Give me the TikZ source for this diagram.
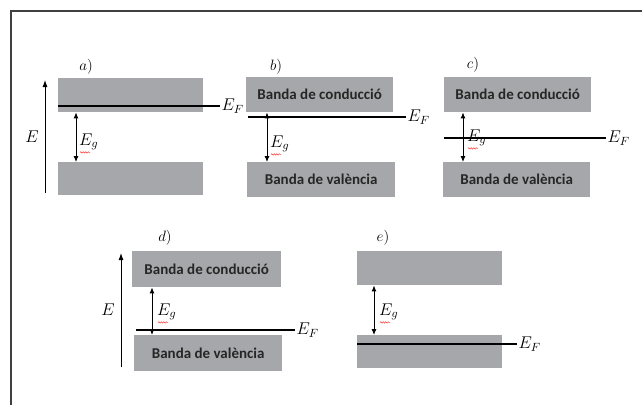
\RequirePackage{fix-cm}
\documentclass[tikz,border=0pt]{standalone}
\usepackage{fontspec}
\newfontfamily\bandfont{Carlito}
\usetikzlibrary{arrows.meta,decorations.pathmorphing}
\definecolor{bandgray}{RGB}{166,167,170}
\tikzset{
  band/.style={fill=bandgray, draw=none, anchor=north west, inner sep=0pt,
    font=\bandfont\bfseries\fontsize{15}{15}\selectfont, text=black!85},
  gaparrow/.style={{Latex[length=6pt,width=5pt]}-{Latex[length=6pt,width=5pt]}, line width=0.9pt},
  axis/.style={-{Latex[length=7pt,width=5pt]}, line width=0.9pt},
  fermi/.style={line width=1.1pt},
  lbl/.style={font=\fontsize{17}{17}\selectfont},
  tag/.style={font=\fontsize{15}{15}\selectfont},
  typo/.style={red!80, line width=0.5pt, decorate,
    decoration={snake, amplitude=0.7pt, segment length=2.5pt}}
}
\begin{document}
\begin{tikzpicture}[x=1pt,y=-1pt]
\useasboundingbox (0,0) rectangle (642,405);
\draw[line width=1.1pt, black!75] (642,11) -- (11,11) -- (11,405);
% a) metal
\node[tag] (la) at (86,67) {$a)$};
\coordinate (ea0) at (45,193);
\coordinate (ea1) at (45,80);
\draw[axis] (ea0) -- (ea1);
\node[lbl] (ela) at (32,137) {$E$};
\node[band, minimum width=145pt, minimum height=34pt] (ca) at (58,78) {};
\node[band, minimum width=145pt, minimum height=33pt] (va) at (58,162) {};
\draw[fermi] (58,106) -- (220,106) node[lbl, right, inner sep=1pt] (efa) {$E_F$};
\draw[gaparrow] ([xshift=18pt]ca.south west) -- ([xshift=18pt]va.north west);
\node[lbl, anchor=west, inner sep=0pt] (ga) at (79,142) {$E_g$};
\draw[typo] ([xshift=1pt,yshift=-2pt]ga.south west) -- ++(10,0);
% b)
\node[tag] (lb) at (276,67) {$b)$};
\node[band, minimum width=147pt, minimum height=35pt] (cb) at (246,77) {Banda de conducció};
\node[band, minimum width=148pt, minimum height=35pt] (vb) at (247,162) {Banda de valència};
\draw[fermi] (248,117) -- (406,117) node[lbl, right, inner sep=1pt] (efb) {$E_F$};
\draw[gaparrow] ([xshift=21pt]cb.south west) -- ([xshift=20pt]vb.north west);
\node[lbl, anchor=west, inner sep=0pt] (gb) at (270,144) {$E_g$};
\draw[typo] ([xshift=1pt,yshift=-2pt]gb.south west) -- ++(10,0);
% c)
\node[tag] (lc) at (473,65) {$c)$};
\node[band, minimum width=147pt, minimum height=35pt] (cc) at (444,77) {Banda de conducció};
\node[band, minimum width=147pt, minimum height=35pt] (vc) at (443,162) {Banda de valència};
\draw[fermi] (444,138) -- (606,138) node[lbl, right, inner sep=1pt] (efc) {$E_F$};
\draw[gaparrow] ([xshift=19pt]cc.south west) -- ([xshift=20pt]vc.north west);
\node[lbl, anchor=west, inner sep=0pt] (gc) at (467,138) {$E_g$};
\draw[typo] ([xshift=1pt,yshift=-2pt]gc.south west) -- ++(10,0);
% d)
\node[tag] (ld) at (165,238) {$d)$};
\coordinate (ed0) at (121,367);
\coordinate (ed1) at (121,253);
\draw[axis] (ed0) -- (ed1);
\node[lbl] (eld) at (108,310) {$E$};
\node[band, minimum width=149pt, minimum height=36pt] (cd) at (132,251) {Banda de conducció};
\node[band, minimum width=148pt, minimum height=36pt] (vd) at (134,335) {Banda de valència};
\draw[fermi] (136,330) -- (295,330) node[lbl, right, inner sep=1pt] (efd) {$E_F$};
\draw[gaparrow] ([xshift=20pt]cd.south west) -- ([xshift=18pt]vd.north west);
\node[lbl, anchor=west, inner sep=0pt] (gd) at (157,312) {$E_g$};
\draw[typo] ([xshift=1pt,yshift=-2pt]gd.south west) -- ++(10,0);
% e)
\node[tag] (le) at (383,238) {$e)$};
\node[band, minimum width=145pt, minimum height=34pt] (ce) at (357,251) {};
\node[band, minimum width=145pt, minimum height=33pt] (ve) at (357,335) {};
\draw[fermi] (357,344) -- (517,344) node[lbl, right, inner sep=1pt] (efe) {$E_F$};
\draw[gaparrow] ([xshift=17pt]ce.south west) -- ([xshift=17pt]ve.north west);
\node[lbl, anchor=west, inner sep=0pt] (ge) at (379,312) {$E_g$};
\draw[typo] ([xshift=1pt,yshift=-2pt]ge.south west) -- ++(10,0);
\end{tikzpicture}
\end{document}
